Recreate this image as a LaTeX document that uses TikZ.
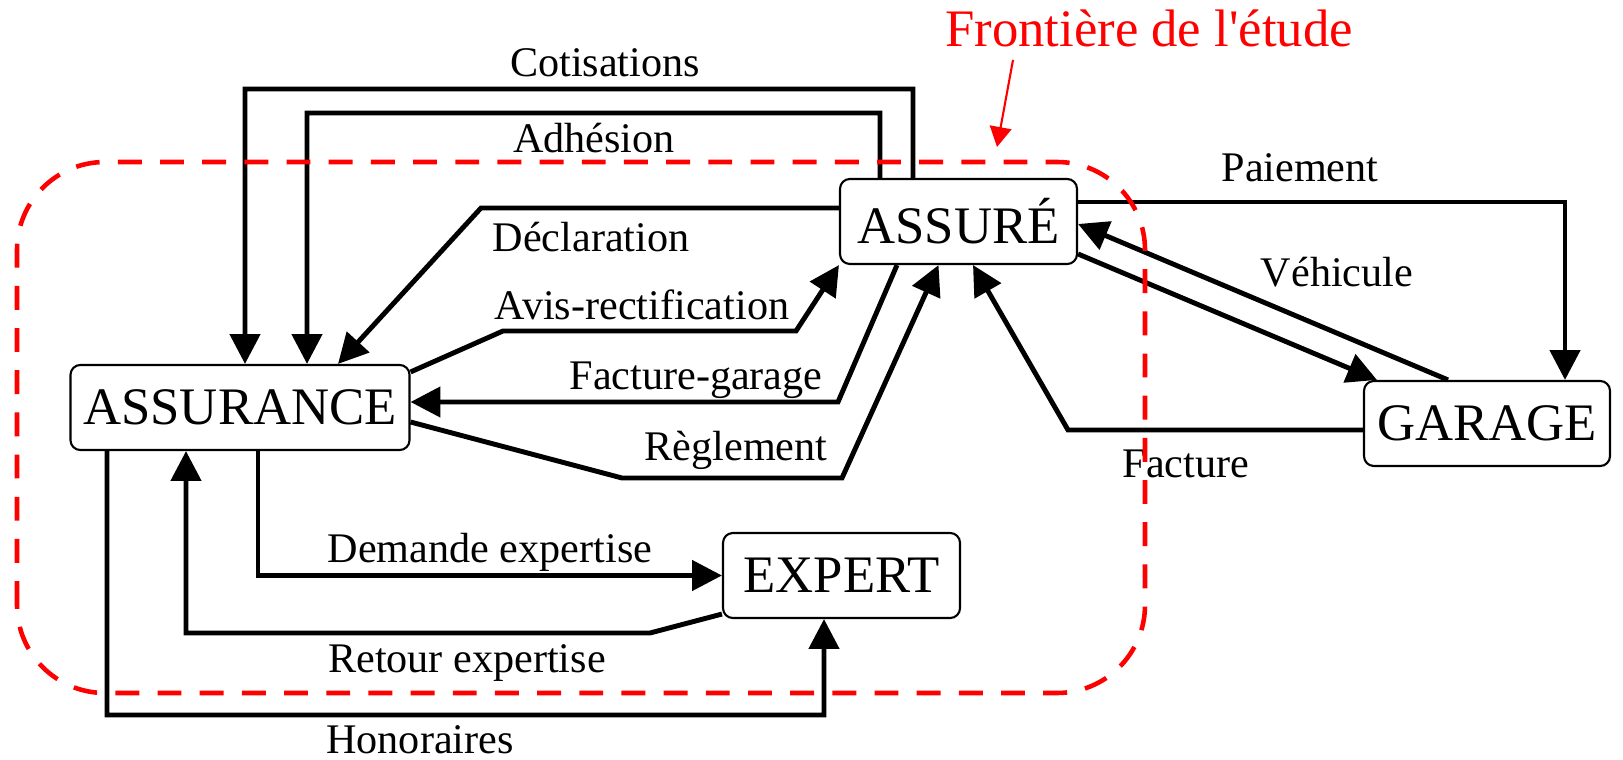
\documentclass[tikz,border=0pt]{standalone}
\usepackage{fontspec}
\setmainfont{Liberation Serif}
\usetikzlibrary{arrows.meta}

\begin{document}
\begin{tikzpicture}[
    box/.style={draw, line width=0.6pt, rounded corners=2.8pt, fill=white, inner sep=0pt, minimum height=0.85cm, font=\fontsize{15}{18}\selectfont},
    flow/.style={line width=1.4pt, -{Triangle[length=8.5pt,width=8.5pt]}},
    lbl/.style={anchor=base, font=\fontsize{12}{14}\selectfont},
    boundary/.style={red, line width=1.3pt, dash pattern=on 6.8pt off 5.2pt}
]
    \useasboundingbox (0,0) rectangle (16.23,7.59);
    % Actors
    \node[box, minimum width=3.39cm] (assurance) at (2.40,3.515) {ASSURANCE};
    \node[box, minimum width=2.37cm] (assure) at (9.585,5.375) {ASSURÉ};
    \node[box, minimum width=2.46cm] (garage) at (14.87,3.355) {GARAGE};
    \node[box, minimum width=2.37cm] (expert) at (8.415,1.835) {EXPERT};

    % Assure <-> Assurance
    \draw[flow] ([xshift=-4.55mm]assure.north) |- (2.45,6.70) -- ([xshift=0.5mm]assurance.north);
    \draw[flow] ([xshift=-7.85mm]assure.north) |- (3.07,6.46) -- ([xshift=6.7mm]assurance.north);
    \draw[flow] ([yshift=1.35mm]assure.west) -- (4.81,5.51) -- ([xshift=9.8mm]assurance.north);
    \draw[flow] ([yshift=-0.8mm]assurance.north east) -- (5.03,4.28) -- (7.96,4.28) -- (assure.south west);
    \draw[flow] ([xshift=-6.15mm]assure.south) -- (8.38,3.57) -- (assurance.east |- 8.38,3.57);
    \draw[flow] ([yshift=-1.45mm]assurance.east) -- (6.22,2.81) -- (8.42,2.81) -- ([xshift=-2mm]assure.south);

    % Assurance <-> Expert
    \draw[flow] ([xshift=1.8mm]assurance.south) |- (expert.west);
    \draw[flow] ([yshift=0.5mm]expert.south west) -- (6.50,1.26) -- (1.86,1.26) -- ([xshift=-5.4mm]assurance.south);
    \draw[flow] ([xshift=-13.3mm]assurance.south) |- (8.24,0.44) -- ([xshift=-1.75mm]expert.south);

    % Assure <-> Garage
    \draw[flow] ([yshift=1.95mm]assure.east) -| ([xshift=7.8mm]garage.north);
    \draw[flow] ([yshift=-3.25mm]assure.east) -- ([xshift=1.4mm]garage.north west);
    \draw[flow] ([xshift=-3.9mm]garage.north) -- ([yshift=-0.25mm]assure.east);
    \draw[flow] ([yshift=-0.65mm]garage.west) -- (10.68,3.29) -- ([xshift=1.45mm]assure.south);

    % Labels
    \node[lbl] (cotis) at (6.05,6.82) {Cotisations};
    \node[lbl] (adhes) at (5.94,6.06) {Adhésion};
    \node[lbl] (decl) at (5.91,5.07) {Déclaration};
    \node[lbl] (avis) at (6.42,4.39) {Avis-rectification};
    \node[lbl] (factgar) at (6.96,3.70) {Facture-garage};
    \node[lbl] (regl) at (7.36,2.99) {Règlement};
    \node[lbl] (demande) at (4.90,1.97) {Demande expertise};
    \node[lbl] (retour) at (4.67,0.87) {Retour expertise};
    \node[lbl] (honor) at (4.20,0.06) {Honoraires};
    \node[lbl] (paiem) at (13.00,5.77) {Paiement};
    \node[lbl] (vehic) at (13.37,4.72) {Véhicule};
    \node[lbl] (fact) at (11.86,2.82) {Facture};

    % Boundary
    \node[lbl, red, font=\fontsize{15}{18}\selectfont] (frontiere) at (11.49,7.12) {Frontière de l\textquotesingle étude};
    \coordinate (pointer) at (9.97,6.12);
    \draw[red, line width=0.6pt, -{Triangle[length=5.7pt,width=6.2pt]}] ([xshift=-13.6mm]frontiere.south) -- (pointer);
    \draw[boundary, rounded corners=0.88cm] (0.17,0.66) rectangle (11.45,5.97);
\end{tikzpicture}
\end{document}
